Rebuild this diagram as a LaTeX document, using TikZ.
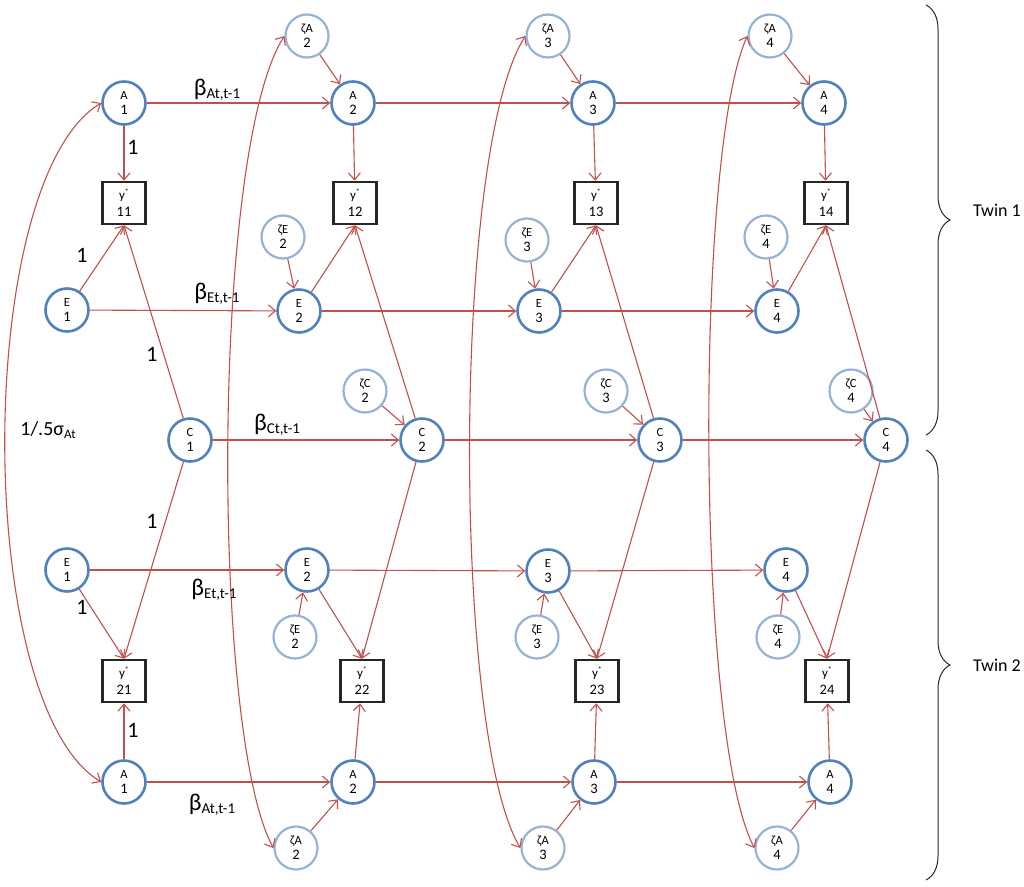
\documentclass[tikz,border=0pt]{standalone}
\usepackage{fontspec}
\setmainfont{Carlito}
\usetikzlibrary{arrows.meta,decorations.pathreplacing}
\definecolor{edgec}{HTML}{C0504D}
\definecolor{latc}{HTML}{4F81BD}
\definecolor{resc}{HTML}{95B3D7}
\newcommand{\nlab}[2]{{\fontsize{12.5}{13}\selectfont #1}\\[3pt]{\fontsize{14.5}{14.5}\selectfont #2}}
\newcommand{\ylab}[1]{{\fontsize{13}{13}\selectfont y\raisebox{5pt}{\fontsize{8}{8}\selectfont *}}\\[5pt]{\fontsize{14.5}{14.5}\selectfont #1}}
\newcommand{\blab}[1]{{\fontsize{24}{24}\selectfont β}\raisebox{-3.5pt}{\fontsize{15}{15}\selectfont #1}}
\begin{document}
\begin{tikzpicture}[x=1pt,y=-1pt,
  lat/.style={circle,draw=latc,line width=2.6pt,minimum size=43pt,inner sep=0pt,align=center,fill=white},
  res/.style={circle,draw=resc,line width=2.2pt,minimum size=43pt,inner sep=0pt,align=center,fill=white},
  obs/.style={rectangle,draw=black!85,line width=2.6pt,minimum width=43pt,minimum height=42pt,inner sep=0pt,align=center,fill=white},
  arr/.style={draw=edgec,line width=1.1pt,-{Straight Barb[length=7pt,width=12pt]}},
  darr/.style={draw=edgec,line width=1.1pt,{Straight Barb[length=7pt,width=12pt]}-{Straight Barb[length=7pt,width=12pt]}},
  one/.style={font=\fontsize{22}{22}\selectfont},
  bl/.style={inner sep=0pt},
  brc/.style={draw=black!85,line width=1pt,decorate,decoration={brace,amplitude=24pt,aspect=0.5}},
  twin/.style={font=\fontsize{18}{18}\selectfont}]
\useasboundingbox (0,0) rectangle (1024,886);

% ---- top twin ----
\node[lat] (A1t) at (124,103) {\nlab{A}{1}};
\node[lat] (A2t) at (353,103) {\nlab{A}{2}};
\node[lat] (A3t) at (593,103) {\nlab{A}{3}};
\node[lat] (A4t) at (824,103) {\nlab{A}{4}};
\node[res] (zA2t) at (307,36) {\nlab{ζA}{2}};
\node[res] (zA3t) at (548,36) {\nlab{ζA}{3}};
\node[res] (zA4t) at (770,36) {\nlab{ζA}{4}};
\node[obs] (y1) at (124,203) {\ylab{11}};
\node[obs] (y2) at (355,203) {\ylab{12}};
\node[obs] (y3) at (596,203) {\ylab{13}};
\node[obs] (y4) at (826,203) {\ylab{14}};
\node[res] (zE2t) at (283,237) {\nlab{ζE}{2}};
\node[res] (zE3t) at (527,240) {\nlab{ζE}{3}};
\node[res] (zE4t) at (766,237) {\nlab{ζE}{4}};
\node[lat] (E1t) at (67,310) {\nlab{E}{1}};
\node[lat] (E2t) at (299,311) {\nlab{E}{2}};
\node[lat] (E3t) at (539,311) {\nlab{E}{3}};
\node[lat] (E4t) at (777,311) {\nlab{E}{4}};
\node[res] (zC2) at (365,391) {\nlab{ζC}{2}};
\node[res] (zC3) at (606,391) {\nlab{ζC}{3}};
\node[res] (zC4) at (851,391) {\nlab{ζC}{4}};
\node[lat] (C1) at (190,440) {\nlab{C}{1}};
\node[lat] (C2) at (422,440) {\nlab{C}{2}};
\node[lat] (C3) at (660,440) {\nlab{C}{3}};
\node[lat] (C4) at (886,440) {\nlab{C}{4}};
% ---- bottom twin ----
\node[lat] (E1b) at (67,570) {\nlab{E}{1}};
\node[lat] (E2b) at (307,570) {\nlab{E}{2}};
\node[lat] (E3b) at (548,571) {\nlab{E}{3}};
\node[lat] (E4b) at (786,570) {\nlab{E}{4}};
\node[res] (zE2b) at (295,637) {\nlab{ζE}{2}};
\node[res] (zE3b) at (537,637) {\nlab{ζE}{3}};
\node[res] (zE4b) at (778,637) {\nlab{ζE}{4}};
\node[obs] (w1) at (124,681) {\ylab{21}};
\node[obs] (w2) at (362,681) {\ylab{22}};
\node[obs] (w3) at (597,681) {\ylab{23}};
\node[obs] (w4) at (827,681) {\ylab{24}};
\node[lat] (A1b) at (124,782) {\nlab{A}{1}};
\node[lat] (A2b) at (353,782) {\nlab{A}{2}};
\node[lat] (A3b) at (594,782) {\nlab{A}{3}};
\node[lat] (A4b) at (830,782) {\nlab{A}{4}};
\node[res] (zA2b) at (296,848) {\nlab{ζA}{2}};
\node[res] (zA3b) at (543,848) {\nlab{ζA}{3}};
\node[res] (zA4b) at (777,848) {\nlab{ζA}{4}};

% ---- connectors ----
\foreach \i/\j in {1/2,2/3,3/4}{
  \draw[arr] (A\i t) -- (A\j t);
  \draw[arr] (E\i t) -- (E\j t);
  \draw[arr] (C\i) -- (C\j);
  \draw[arr] (E\i b) -- (E\j b);
  \draw[arr] (A\i b) -- (A\j b);
}
\foreach \i in {1,2,3,4}{
  \draw[arr] (A\i t) -- (y\i);
  \draw[arr] (E\i t) -- (y\i.south);
  \draw[arr] (C\i) -- (y\i.south);
  \draw[arr] (C\i) -- (w\i.north);
  \draw[arr] (E\i b) -- (w\i.north);
  \draw[arr] (A\i b) -- (w\i);
}
\foreach \i in {2,3,4}{
  \draw[arr] (zA\i t) -- (A\i t);
  \draw[arr] (zE\i t) -- (E\i t);
  \draw[arr] (zC\i) -- (C\i);
  \draw[arr] (zE\i b) -- (E\i b);
  \draw[arr] (zA\i b) -- (A\i b);
}
% covariance curves
\draw[darr] (A1t.west) .. controls (-27,180) and (-27,705) .. (A1b.west);
\draw[darr] (zA2t.west) .. controls (211,150) and (211,734) .. (zA2b.west);
\draw[darr] (zA3t.west) .. controls (452,150) and (452,734) .. (zA3b.west);
\draw[darr] (zA4t.west) .. controls (695,150) and (695,734) .. (zA4b.west);

% ---- labels ----
\node[bl] (bA1) at (217,90) {\blab{At,t-1}};
\node[bl] (bE1) at (217,294) {\blab{Et,t-1}};
\node[bl] (bC1) at (277,425) {\blab{Ct,t-1}};
\node[bl] (bE2) at (214,590) {\blab{Et,t-1}};
\node[bl] (bA2) at (212,805) {\blab{At,t-1}};
\node[one] (l1) at (133,147) {1};
\node[one] (l2) at (82,255) {1};
\node[one] (l3) at (152,354) {1};
\node[one] (l4) at (152,521) {1};
\node[one] (l5) at (82,607) {1};
\node[one] (l6) at (133,730) {1};
\node[bl] (sig) at (48,430) {{\fontsize{20}{20}\selectfont 1/.5σ}\raisebox{-3.5pt}{\fontsize{13}{13}\selectfont At}};

% ---- braces ----
\coordinate (b1a) at (926,5);
\coordinate (b1b) at (926,435);
\coordinate (b2a) at (926,450);
\coordinate (b2b) at (926,880);
\draw[brc] (b1a) -- (b1b);
\draw[brc] (b2a) -- (b2b);
\node[twin] (t1) at (997,210) {Twin 1};
\node[twin] (t2) at (997,665) {Twin 2};
\end{tikzpicture}
\end{document}
